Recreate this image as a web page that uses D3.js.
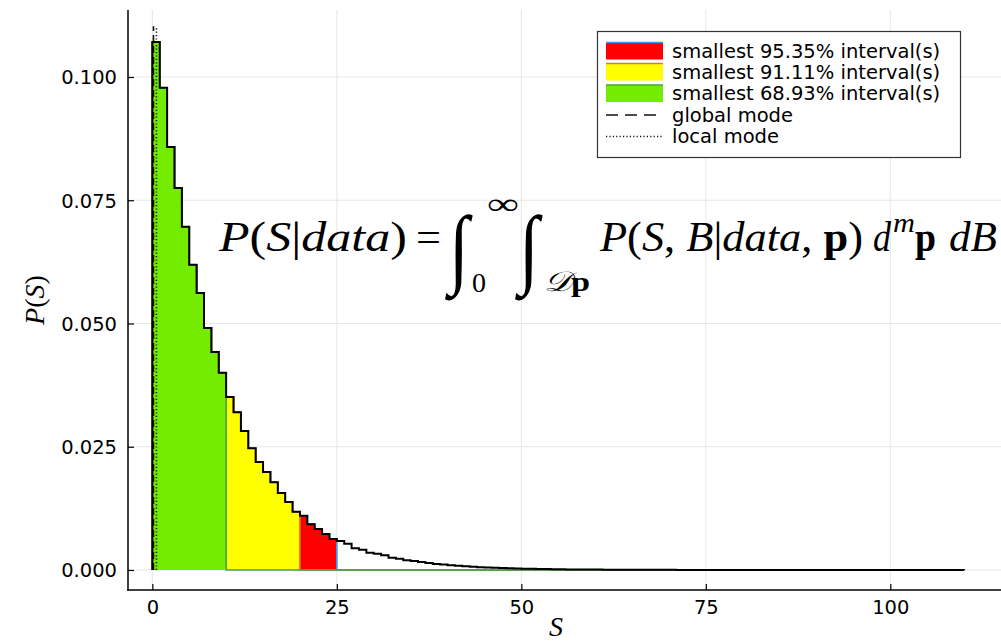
<!DOCTYPE html>
<html><head><meta charset="utf-8">
<script src="https://cdn.jsdelivr.net/npm/d3@7"></script>
<style>body{margin:0;background:#fff} svg{display:block}</style>
</head><body><svg id="c" width="1001" height="641"></svg>
<script>
// ---- data ----
const binWidth = 1;
const density = [
  0.1071, 0.0978, 0.0858, 0.0775, 0.0696, 0.0619, 0.0562, 0.0491, 0.0442, 0.0400,
  0.0351, 0.0320, 0.0282, 0.0247, 0.0219, 0.0199, 0.0178, 0.0156, 0.0138, 0.0118,
  0.0110, 0.0093, 0.0083, 0.0073, 0.0063, 0.0059, 0.0053, 0.0044, 0.0041, 0.0035,
  0.0033, 0.0030, 0.0025, 0.0023, 0.0020, 0.0018, 0.0016, 0.0014, 0.0012, 0.0011,
  0.00095, 0.00085, 0.00075, 0.00066, 0.00058, 0.00050, 0.00044, 0.00039, 0.00034, 0.00030,
  0.00026, 0.00023, 0.00020, 0.00018, 0.00016, 0.00014, 0.00012, 0.00011, 0.00010, 0.00009,
  0.00008, 0.00007, 0.00006, 0.000055, 0.00005, 0.000045, 0.00004, 0.000035, 0.00003, 0.000028,
  0.000025, 0.000022, 0.00002, 0.000018, 0.000016, 0.000014, 0.000012, 0.000011, 0.00001, 0.000009,
  0.000008, 0.000007, 0.000006, 0.000006, 0.000005, 0.000005, 0.000004, 0.000004, 0.000003, 0.000003,
  0.000003, 0.000002, 0.000002, 0.000002, 0.000002, 0.000001, 0.000001, 0.000001, 0.000001, 0.000001,
  0.000001, 0.000001, 0.000001, 0.000001, 0.000001, 0.000001, 0.000001, 0.000001, 0.000001, 0.000001
];
const intervalLabels = ["smallest 95.35% interval(s)", "smallest 91.11% interval(s)", "smallest 68.93% interval(s)"];
const intervalLower = [0, 0, 0];
const intervalUpper = [25, 20, 10];
const intervalFill = ["#ff0000", "#ffff00", "#74ec00"];
const intervalLine = ["#2a9df4", "#e8703a", "#3ea44e"];
const modeLabels = ["global mode", "local mode"];
const modeValues = [0.15, 0.55];
const modeTop = 0.1103;
const xTicks = [0, 25, 50, 75, 100];
const yTicks = [0, 0.025, 0.05, 0.075, 0.1];
const yTickLabels = ["0.000", "0.025", "0.050", "0.075", "0.100"];

// ---- layout ----
const svg = d3.select("#c");
const L = 128, R = 1001, T = 10, B = 590;
const x = d3.scaleLinear().domain([-3.3, 115]).range([L, R]);
const y = d3.scaleLinear().domain([-0.00406, 0.11359]).range([B, T]);
const nBins = density.length;
const edges = d3.range(nBins + 1).map(i => i * binWidth);

// grid
const grid = svg.append("g");
grid.selectAll(".gx").data(xTicks).join("line")
  .attr("x1", d => x(d)).attr("x2", d => x(d)).attr("y1", T).attr("y2", B)
  .attr("stroke", "#e6e6e6").attr("stroke-width", 1);
grid.selectAll(".gy").data(yTicks).join("line")
  .attr("x1", L).attr("x2", R).attr("y1", d => y(d)).attr("y2", d => y(d))
  .attr("stroke", "#e6e6e6").attr("stroke-width", 1);

// interval fills
const stepArea = d3.area().curve(d3.curveStepAfter)
  .x(d => x(d[0])).y0(y(0)).y1(d => y(d[1]));
const stepLine = d3.line().curve(d3.curveStepAfter)
  .x(d => x(d[0])).y(d => y(d[1]));
intervalUpper.forEach((u, k) => {
  const lo = intervalLower[k];
  const pts = [];
  for (let i = 0; i < nBins; i++) if (edges[i] >= lo && edges[i] < u) pts.push([edges[i], density[i]]);
  pts.push([u, 0]);
  svg.append("path").attr("d", stepArea(pts)).attr("fill", intervalFill[k]).attr("stroke", "none");
  const lpts = [[lo, 0]].concat(pts).concat([[edges[nBins], 0]]);
  svg.append("path").attr("d", stepLine(lpts)).attr("fill", "none")
    .attr("stroke", intervalLine[k]).attr("stroke-width", 1.6);
});

// mode lines
const modeDash = ["7,4", "1.2,2.2"];
modeValues.forEach((m, k) => {
  svg.append("line").attr("x1", x(m)).attr("x2", x(m)).attr("y1", y(0)).attr("y2", y(modeTop))
    .attr("stroke", "#111").attr("stroke-width", 1.6).attr("stroke-dasharray", modeDash[k]);
});

// histogram step line
const hpts = [[edges[0], 0]].concat(density.map((v, i) => [edges[i], v])).concat([[edges[nBins], 0]]);
svg.append("path").attr("d", stepLine(hpts)).attr("fill", "none")
  .attr("stroke", "#000").attr("stroke-width", 2).attr("stroke-linejoin", "miter");

// axes
const ax = svg.append("g").attr("transform", `translate(0,${B})`)
  .call(d3.axisBottom(x).tickValues(xTicks).tickSize(-6).tickPadding(10).tickFormat(d3.format("d")));
const ay = svg.append("g").attr("transform", `translate(${L},0)`)
  .call(d3.axisLeft(y).tickValues(yTicks).tickSize(-6).tickPadding(11).tickFormat((d, i) => yTickLabels[i]));
[ax, ay].forEach(g => {
  g.select(".domain").remove();
  g.selectAll(".tick line").attr("stroke", "#000").attr("stroke-width", 1.2);
  g.selectAll(".tick text").attr("font-family", "DejaVu Sans").attr("font-size", 19.5).attr("fill", "#000");
});
ay.selectAll(".tick text").attr("dy", "0.35em");
svg.append("line").attr("x1", L).attr("x2", L).attr("y1", T).attr("y2", B + 0.75).attr("stroke", "#000").attr("stroke-width", 1.5);
svg.append("line").attr("x1", L - 0.75).attr("x2", R).attr("y1", B).attr("y2", B).attr("stroke", "#000").attr("stroke-width", 1.5);

// axis labels
const serif = "Liberation Serif, DejaVu Serif, serif";
svg.append("text").attr("x", 556).attr("y", 636).attr("text-anchor", "middle")
  .attr("font-family", serif).attr("font-size", 28).attr("font-style", "italic").text("S");
const yl = svg.append("text").attr("transform", "translate(44,300) rotate(-90)").attr("text-anchor", "middle")
  .attr("font-family", serif).attr("font-size", 28);
yl.append("tspan").attr("font-style", "italic").text("P");
yl.append("tspan").text("(");
yl.append("tspan").attr("font-style", "italic").text("S");
yl.append("tspan").text(")");

// formula
const F = svg.append("g").attr("font-family", serif).attr("fill", "#000");
function chunk(xp, yp, size, width, parts) {
  const t = F.append("text").attr("x", xp).attr("y", yp).attr("font-size", size);
  if (width) t.attr("textLength", width).attr("lengthAdjust", "spacingAndGlyphs");
  parts.forEach(p => {
    const s = t.append("tspan").text(p[0]);
    if (p[1] === "i") s.attr("font-style", "italic");
    if (p[1] === "b") s.attr("font-weight", "bold");
  });
  return t;
}
chunk(219, 251, 42, 188, [["P", "i"], ["("], ["S", "i"], ["|"], ["data", "i"], [")"]]);
chunk(416, 251, 42, 25, [["="]]);
chunk(449, 277, 88, 20, [["∫", "i"]]);
chunk(487, 214, 30, 32, [["∞"]]);
chunk(472, 292, 27, 14, [["0"]]);
chunk(519, 277, 88, 20, [["∫", "i"]]);
chunk(544, 291, 28, 46, [["𝒟", "i"], ["p", "b"]]);
chunk(600, 251, 42, 263, [["P", "i"], ["("], ["S", "i"], [", "], ["B", "i"], ["|"], ["data", "i"], [", "], ["p", "b"], [")"]]);
chunk(873, 251, 42, 18, [["d", "i"]]);
chunk(893, 232, 28, 22, [["m", "i"]]);
chunk(915, 251, 42, 21, [["p", "b"]]);
chunk(949, 251, 42, 48, [["dB", "i"]]);

// legend
const lg = svg.append("g");
lg.append("rect").attr("x", 597.5).attr("y", 31.5).attr("width", 363).attr("height", 126)
  .attr("fill", "#fff").attr("stroke", "#333").attr("stroke-width", 1.2);
const rowY = [51, 72, 93.5, 115, 136.5];
[0, 1, 2].forEach((k, r) => {
  lg.append("rect").attr("x", 606).attr("y", rowY[r] - 8.5).attr("width", 57).attr("height", 17)
    .attr("fill", intervalFill[k]);
  lg.append("line").attr("x1", 606).attr("x2", 663).attr("y1", rowY[r] - 8.5).attr("y2", rowY[r] - 8.5)
    .attr("stroke", intervalLine[k]).attr("stroke-width", 1.5);
  lg.append("text").attr("x", 672).attr("y", rowY[r]).attr("dy", "0.35em")
    .attr("font-family", "DejaVu Sans").attr("font-size", 19.5).text(intervalLabels[k]);
});
modeLabels.forEach((lab, k) => {
  const r = 3 + k;
  lg.append("line").attr("x1", 606).attr("x2", 663).attr("y1", rowY[r]).attr("y2", rowY[r])
    .attr("stroke", "#111").attr("stroke-width", 1.6).attr("stroke-dasharray", k === 0 ? "12,7" : "1.2,2.2");
  lg.append("text").attr("x", 672).attr("y", rowY[r]).attr("dy", "0.35em")
    .attr("font-family", "DejaVu Sans").attr("font-size", 19.5).text(lab);
});
</script>
</body></html>
